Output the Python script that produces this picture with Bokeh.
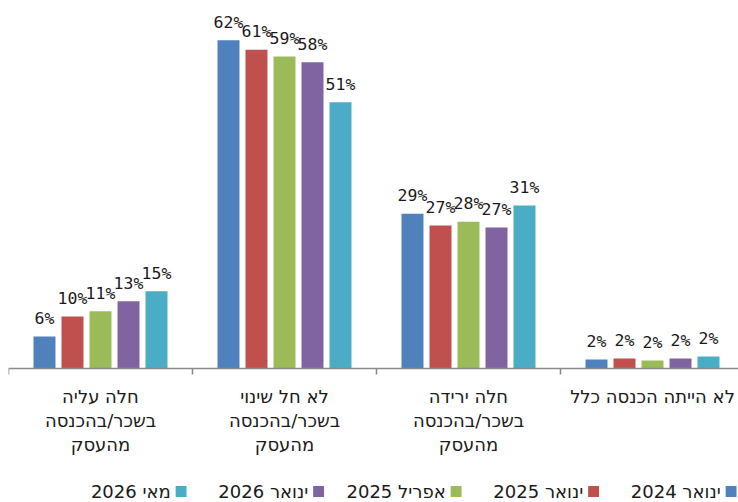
import numpy as np
from bokeh.plotting import figure
from bokeh.models import ColumnDataSource, Range1d, FixedTicker
from bokeh.layouts import column
from bokeh.core.properties import value
from bokeh.embed import file_html
from bokeh.resources import INLINE

# ---------------- data ----------------
categories = [
    "חלה עליה\nבשכר/בהכנסה\nמהעסק",
    "לא חל שינוי\nבשכר/בהכנסה\nמהעסק",
    "חלה ירידה\nבשכר/בהכנסה\nמהעסק",
    "לא הייתה הכנסה כלל",
]
series_names = ["ינואר 2024", "ינואר 2025", "אפריל 2025", "ינואר 2026", "מאי 2026"]
jan2024 = [6.1, 62.4, 29.4, 1.7]
jan2025 = [9.9, 60.6, 27.2, 1.9]
apr2025 = [10.9, 59.3, 27.9, 1.5]
jan2026 = [12.8, 58.2, 26.8, 1.9]
may2026 = [14.7, 50.6, 31.0, 2.3]
series_values = [jan2024, jan2025, apr2025, jan2026, may2026]
colors = ["#4F81BD", "#C0504D", "#9BBB59", "#8064A2", "#4BACC6"]

MONO = "DejaVu Sans Mono"
SANS = "DejaVu Sans"
PX_PER_CAT = 184.0
PX_PER_PCT = 5.26
W = 738
FRAME_W = 730

# ---------------- main chart ----------------
p = figure(
    width=W, height=458,
    x_range=Range1d(0, FRAME_W / PX_PER_CAT),
    y_range=Range1d(-10 / PX_PER_PCT, 360 / PX_PER_PCT),
    output_backend="svg", toolbar_location=None,
    x_axis_location="below", y_axis_location=None,
    min_border_left=8, min_border_right=0, min_border_top=8, min_border_bottom=80,
)
p.outline_line_color = None
p.grid.visible = False
p.background_fill_color = "white"

n_cat = len(categories)
n_ser = len(series_values)
bar_w = 22 / PX_PER_CAT
pitch = 28 / PX_PER_CAT
centers = np.arange(n_cat) + 0.5

for s, (name, vals, col) in enumerate(zip(series_names, series_values, colors)):
    xs = centers + (s - (n_ser - 1) / 2) * pitch
    labels = [f"{int(v + 0.5)}%" for v in vals]
    src = ColumnDataSource(dict(x=xs, top=vals, lab=labels))
    p.vbar(x="x", top="top", bottom=0, width=bar_w, source=src, fill_color=col, line_color=None)
    p.text(x="x", y="top", text="lab", source=src, y_offset=-18,
           text_align="center", text_baseline="alphabetic",
           text_font=value(MONO), text_font_size="16.5px", text_color="#1a1a1a")

# axis line and boundary ticks
bounds = np.arange(n_cat + 1)
p.segment(x0=[0], y0=[0], x1=[n_cat], y1=[0], line_color="#8a8a8a", line_width=1.6)
p.segment(x0=bounds, y0=np.zeros(n_cat + 1), x1=bounds, y1=np.full(n_cat + 1, -6 / PX_PER_PCT),
          line_color="#8a8a8a", line_width=1.6)

ax = p.xaxis[0]
ax.ticker = FixedTicker(ticks=list(centers))
ax.major_label_overrides = {float(c): lab for c, lab in zip(centers, categories)}
ax.axis_line_color = None
ax.major_tick_line_color = None
ax.minor_tick_line_color = None
ax.major_tick_out = 0
ax.major_tick_in = 0
ax.major_label_standoff = 7
ax.major_label_text_font = SANS
ax.major_label_text_font_size = "18px"
ax.major_label_text_color = "#1a1a1a"
ax.major_label_text_line_height = 1.15

# ---------------- legend (text left of swatch, items laid out right-to-left) ----------------
LEG_H = 44
leg = figure(
    width=W, height=LEG_H,
    x_range=Range1d(0, W), y_range=Range1d(0, LEG_H),
    output_backend="svg", toolbar_location=None,
    x_axis_location=None, y_axis_location=None,
    min_border=0,
)
leg.outline_line_color = None
leg.grid.visible = False

sq = 11
char_w = 9.7
sq_right = 736.0
sq_x, txt_x = [], []
for name in series_names:
    sq_x.append(sq_right - sq / 2)
    tr = sq_right - sq - 5
    txt_x.append(tr)
    sq_right = tr - char_w * len(name) - 26

lsrc = ColumnDataSource(dict(sx=sq_x, tx=txt_x, y=[11] * n_ser, name=series_names, color=colors))
leg.rect(x="sx", y="y", width=sq, height=sq, source=lsrc, fill_color="color", line_color=None)
leg.text(x="tx", y="y", text="name", source=lsrc, text_align="right", text_baseline="middle",
         text_font=value(SANS), text_font_size="18px", text_color="#1a1a1a")

layout = column(p, leg)
open("out.html", "w").write(file_html(layout, INLINE))
